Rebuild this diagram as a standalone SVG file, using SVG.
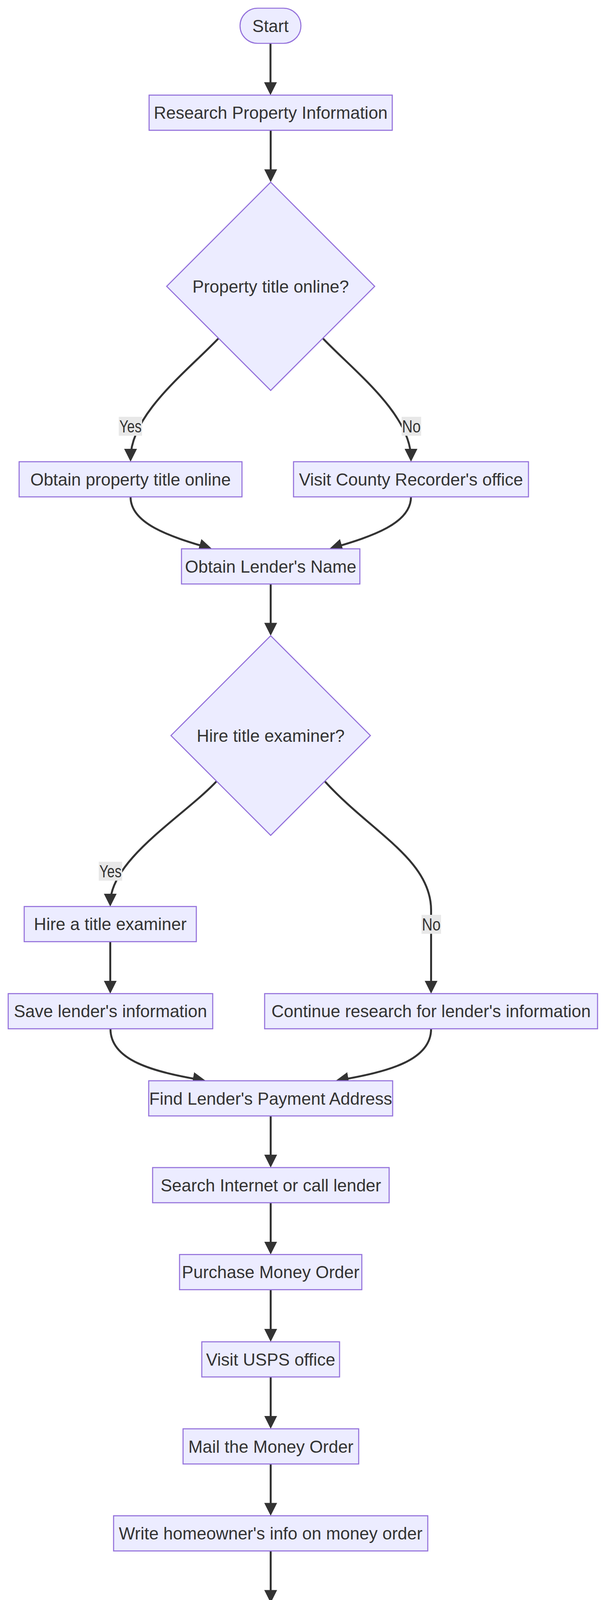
<svg xmlns="http://www.w3.org/2000/svg" width="1568" height="5268" viewBox="0 0 1568 5268">
<style>
.node rect, .node polygon { fill: #ECECFF; stroke: #9370DB; stroke-width: 2.7; }
.node text, .lbl text { font-family: "Liberation Sans", Arial, sans-serif; font-size: 44px; fill: #333333; text-anchor: middle; }
.edge { fill: none; stroke: #333333; stroke-width: 5; marker-end: url(#arrow); }
.lbl rect { fill: #e8e8e8; stroke: none; }
</style>
<defs>
<marker id="arrow" viewBox="0 0 10 10" refX="7.576" refY="5" markerUnits="userSpaceOnUse" markerWidth="33" markerHeight="33" orient="auto">
<path d="M0,0 L10,5 L0,10 z" fill="#333333"/>
</marker>
</defs>
<rect x="0" y="0" width="1568" height="5268" fill="#ffffff"/>
<g id="connectors">
<path class="edge" d="M693,111 L693,235.5"/>
<path class="edge" d="M693.5,333.5 L693.5,458.5"/>
<path class="edge" d="M560,866 C480,950 334.5,1060 334.5,1174"/>
<path class="edge" d="M827,866 C907,950 1053,1060 1053,1174"/>
<path class="edge" d="M334.5,1272 C334.5,1340 432.3,1372.8 535.3,1402.8"/>
<path class="edge" d="M1053,1272 C1053,1340 954.7,1372.8 851.7,1402.8"/>
<path class="edge" d="M693.5,1495 L693.5,1619.5"/>
<path class="edge" d="M555,2000 C470,2090 282.5,2200 282.5,2312.7"/>
<path class="edge" d="M832,2000 C950,2130 1104.5,2200 1104.5,2330 L1104.5,2535.7"/>
<path class="edge" d="M282.5,2410.7 L282.5,2535.7"/>
<path class="edge" d="M283,2633.7 C283,2715 392.1,2743.6 519.1,2765.4"/>
<path class="edge" d="M1104.5,2633.7 C1104.5,2715 994.9,2743.6 867.9,2765.4"/>
<path class="edge" d="M693.5,2856.8 L693.5,2981"/>
<path class="edge" d="M693.5,3079 L693.5,3203.6"/>
<path class="edge" d="M693.5,3301.6 L693.5,3427"/>
<path class="edge" d="M693.5,3525 L693.5,3649.8"/>
<path class="edge" d="M693.5,3747.8 L693.5,3872.4"/>
<path class="edge" d="M693.5,3970.4 L693.5,4095.5"/>
<path class="edge" d="M550,4553 L390,4730 C358,4765 332.5,4800 332.5,4871"/>
<path class="edge" d="M837,4553 L997,4730 C1029,4765 1055,4800 1055,4871"/>
<path class="edge" d="M332.5,4969 C332.5,5045 432.3,5072.9 619,5122.9"/>
<path class="edge" d="M1055,4969 C1055,5045 954.7,5072.9 768,5122.9"/>
</g>
<g id="node-start" class="node"><rect x="615" y="21" width="156" height="90" rx="45" ry="45"/><text x="693" y="81.7">Start</text></g>
<g id="node-research" class="node"><rect x="382" y="243.5" width="623" height="90"/><text x="693.5" y="304.2">Research Property Information</text></g>
<g id="node-title-online" class="node"><polygon points="693.5,466.5 960,733 693.5,999.5 427,733"/><text x="693.5" y="748.7">Property title online?</text></g>
<g id="node-obtain-online" class="node"><rect x="49" y="1182" width="571" height="90"/><text x="334.5" y="1242.7">Obtain property title online</text></g>
<g id="node-visit-recorder" class="node"><rect x="752" y="1182" width="602" height="90"/><text x="1053" y="1242.7">Visit County Recorder's office</text></g>
<g id="node-lender-name" class="node"><rect x="465" y="1405" width="457" height="90"/><text x="693.5" y="1465.7">Obtain Lender's Name</text></g>
<g id="node-hire-decision" class="node"><polygon points="693.5,1627.5 949,1883 693.5,2138.5 438,1883"/><text x="693.5" y="1898.7">Hire title examiner?</text></g>
<g id="node-hire" class="node"><rect x="62" y="2320.7" width="441" height="90"/><text x="282.5" y="2381.4">Hire a title examiner</text></g>
<g id="node-save" class="node"><rect x="21" y="2543.7" width="524" height="90"/><text x="283" y="2604.4">Save lender's information</text></g>
<g id="node-continue" class="node"><rect x="678" y="2543.7" width="853" height="90"/><text x="1104.5" y="2604.4">Continue research for lender's information</text></g>
<g id="node-find-address" class="node"><rect x="381" y="2766.8" width="625" height="90"/><text x="693.5" y="2827.5">Find Lender's Payment Address</text></g>
<g id="node-search" class="node"><rect x="391" y="2989" width="606" height="90"/><text x="694" y="3049.7">Search Internet or call lender</text></g>
<g id="node-purchase" class="node"><rect x="460" y="3211.6" width="467" height="90"/><text x="693.5" y="3272.3">Purchase Money Order</text></g>
<g id="node-usps" class="node"><rect x="517" y="3435" width="353" height="90"/><text x="693.5" y="3495.7">Visit USPS office</text></g>
<g id="node-mail" class="node"><rect x="469" y="3657.8" width="450" height="90"/><text x="694" y="3718.5">Mail the Money Order</text></g>
<g id="node-write" class="node"><rect x="291" y="3880.4" width="805" height="90"/><text x="693.5" y="3941.1">Write homeowner's info on money order</text></g>
<g id="node-account-decision" class="node"><polygon points="693.5,4103.5 990,4400 693.5,4696.5 397,4400"/><text x="693.5" y="4415.7">Account number known?</text></g>
<g id="node-include" class="node"><rect x="82" y="4879" width="501" height="90"/><text x="332.5" y="4939.7">Include account number</text></g>
<g id="node-proceed" class="node"><rect x="717" y="4879" width="676" height="90"/><text x="1055" y="4939.7">Proceed without account number</text></g>
<g id="node-end" class="node"><rect x="626.7" y="5101.7" width="134" height="90" rx="45" ry="45"/><text x="693.7" y="5162.4">End</text></g>
<g id="edge-labels">
<g class="lbl"><rect x="304.3" y="1067" width="59.7" height="48.5"/><text x="334.2" y="1106.8" textLength="57" lengthAdjust="spacingAndGlyphs">Yes</text></g>
<g class="lbl"><rect x="1029" y="1067" width="50" height="48.5"/><text x="1054" y="1106.8" textLength="48" lengthAdjust="spacingAndGlyphs">No</text></g>
<g class="lbl"><rect x="253" y="2206" width="60" height="48.5"/><text x="283" y="2245.7" textLength="57" lengthAdjust="spacingAndGlyphs">Yes</text></g>
<g class="lbl"><rect x="1080" y="2342" width="50" height="48.5"/><text x="1105" y="2381.7" textLength="48" lengthAdjust="spacingAndGlyphs">No</text></g>
<g class="lbl"><rect x="302.7" y="4763.3" width="59.5" height="48.5"/><text x="332.5" y="4803" textLength="57" lengthAdjust="spacingAndGlyphs">Yes</text></g>
<g class="lbl"><rect x="1030" y="4763.3" width="50" height="48.5"/><text x="1055" y="4803" textLength="48" lengthAdjust="spacingAndGlyphs">No</text></g>
</g>
</svg>
